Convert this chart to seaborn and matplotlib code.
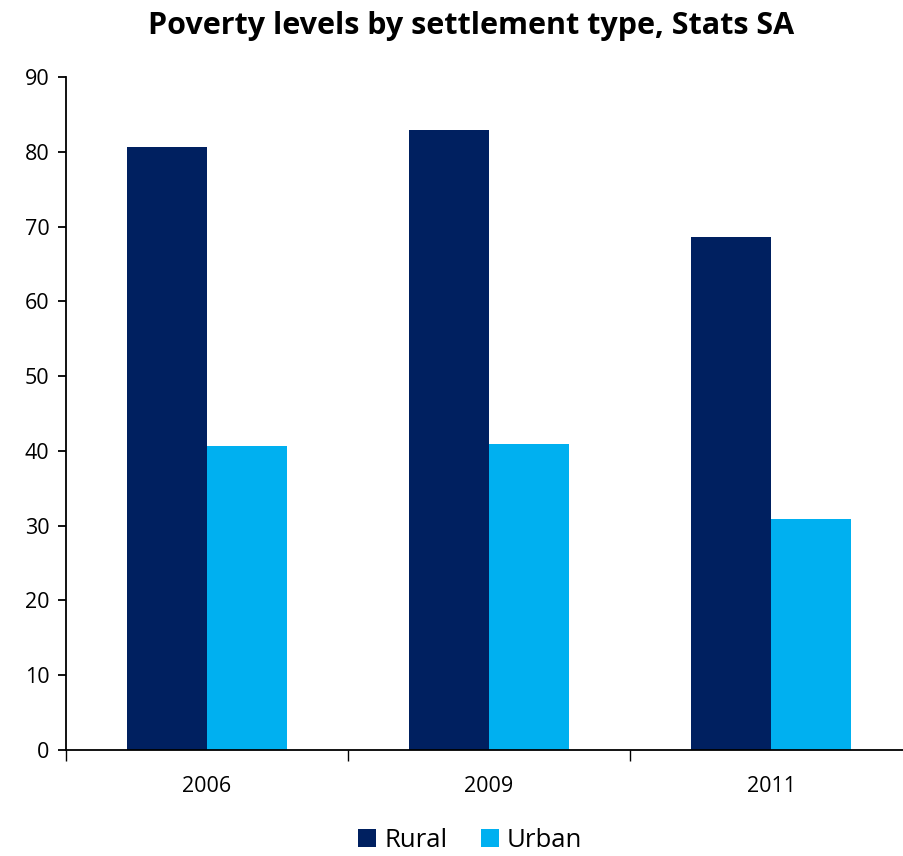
import pandas as pd
import seaborn as sns
import matplotlib.pyplot as plt

years = ["2006", "2009", "2011"]
rural = [80.7, 82.9, 68.6]
urban = [40.6, 40.9, 30.9]

df = pd.DataFrame({
    "Year": years * 2,
    "Poverty": rural + urban,
    "Settlement": ["Rural"] * 3 + ["Urban"] * 3,
})

sns.set_style("white")
plt.rcParams["font.family"] = ["Open Sans", "DejaVu Sans"]
plt.rcParams["text.color"] = "black"
plt.rcParams["xtick.color"] = "black"
plt.rcParams["ytick.color"] = "black"

fig = plt.figure(figsize=(9.04, 8.56), dpi=100)
ax = fig.add_axes([0.073, 0.124, 0.936, 0.786])

sns.barplot(data=df, x="Year", y="Poverty", hue="Settlement",
            palette={"Rural": "#002060", "Urban": "#00B0F0"},
            width=0.57, saturation=1, linewidth=0, ax=ax)

ax.set_xlim(-0.5, 2.5)
ax.set_ylim(0, 90)
ax.set_yticks(range(0, 91, 10))
ax.set_xlabel("")
ax.set_ylabel("")

for s in ["top", "right"]:
    ax.spines[s].set_visible(False)
for s in ["left", "bottom"]:
    ax.spines[s].set_color("black")
    ax.spines[s].set_linewidth(1.3)

ax.tick_params(axis="y", direction="out", length=6, width=1.3, labelsize=15.5, left=True, pad=6)
ax.tick_params(axis="x", which="major", length=0, labelsize=15.5, pad=19)
ax.set_xticks([-0.5, 0.5, 1.5, 2.5], minor=True)
ax.tick_params(axis="x", which="minor", direction="out", length=8, width=1.0, bottom=True)

ax.set_title("Poverty levels by settlement type, Stats SA", fontsize=22,
             fontweight="bold", pad=31, x=0.479)

ax.legend_.remove()
handles, labels = ax.get_legend_handles_labels()
fig.legend(handles, labels, loc="lower center", bbox_to_anchor=(0.52, -0.024),
           ncol=2, frameon=False, fontsize=18.5, handlelength=0.7, handleheight=0.7,
           handletextpad=0.3, columnspacing=1.3)

fig.savefig("out.png", dpi=100)
